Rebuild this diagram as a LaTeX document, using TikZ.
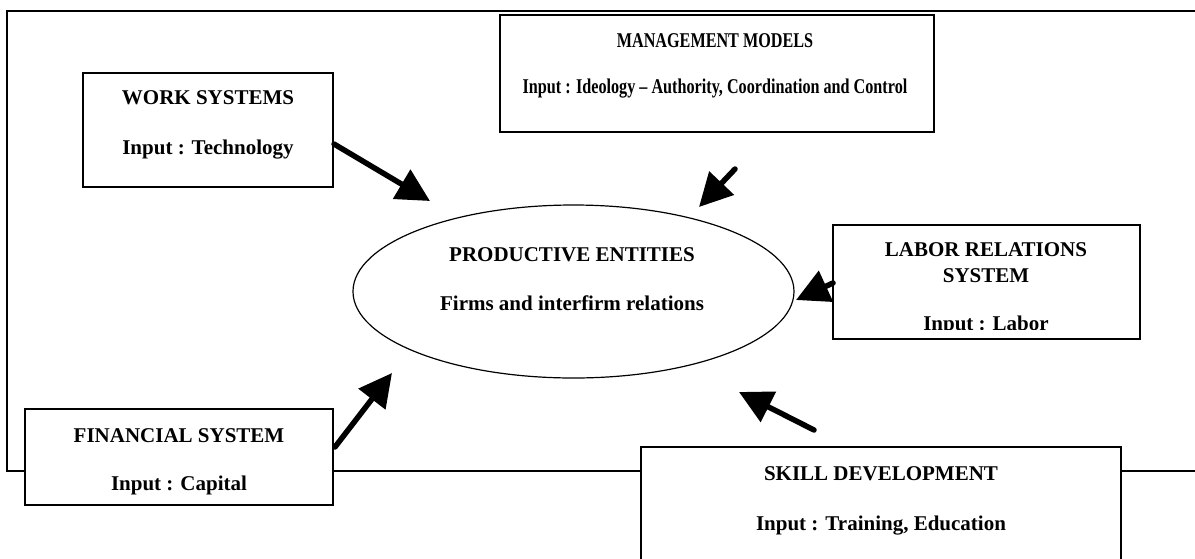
\documentclass[tikz,border=0pt]{standalone}
\usepackage{fontspec}
\setmainfont{Liberation Serif}
\newfontfamily\narrowserif[FakeStretch=0.77]{Liberation Serif}
\usetikzlibrary{arrows.meta,shapes.geometric}

\tikzset{
  box/.style={draw, line width=1.2pt, fill=white, rectangle, inner sep=0pt},
  txt/.style={anchor=base, inner sep=0pt, font=\bfseries\fontsize{21}{25}\selectfont},
  narrowtxt/.style={txt, font=\narrowserif\bfseries\fontsize{21}{25}\selectfont},
  inarrow/.style={line width=5.5pt, line cap=round, -{Triangle[length=33pt,width=33pt]}}
}

\begin{document}
\begin{tikzpicture}[x=1pt,y=-1pt]
	\path[use as bounding box, clip] (0,0) rectangle (1195,558);
	% outer frame, open to the right
	\draw[line width=1.2pt] (1195,11) -- (7,11) -- (7,471) -- (1195,471);

	% boxes and the ellipse
	\node[box, minimum width=250pt, minimum height=114pt] (work) at (208,130) {};
	\node[box, minimum width=434pt, minimum height=117pt] (mgmt) at (717,73.5) {};
	\node[box, minimum width=307pt, minimum height=114pt] (labor) at (986.5,282) {};
	\node[box, minimum width=308pt, minimum height=96pt] (fin) at (179,457) {};
	\node[box, minimum width=480pt, minimum height=133pt] (skill) at (881,513.5) {};
	\node[draw, ellipse, line width=1.2pt, minimum width=441pt, minimum height=173pt] (prod) at (573.5,291.5) {};

	% texts
	\node[txt] (worktitle) at (208,104) {WORK SYSTEMS};
	\node[txt] (workinput) at (208,154) {Input : Technology};
	\node[narrowtxt] (mgmttitle) at (715,47) {MANAGEMENT MODELS};
	\node[narrowtxt] (mgmtinput) at (715,93) {Input : Ideology – Authority, Coordination and Control};
	\node[txt] (prodtitle) at (572,261) {PRODUCTIVE ENTITIES};
	\node[txt] (prodtext) at (572,310) {Firms and interfirm relations};
	\node[txt] (labortitle) at (986,256) {LABOR RELATIONS};
	\node[txt] (labortitleb) at (986,282) {SYSTEM};
	\begin{scope}
		\clip (833,225) rectangle (1140,329);
		\node[txt] (laborinput) at (986,330.5) {Input : Labor};
	\end{scope}
	\node[txt] (fintitle) at (179,442) {FINANCIAL SYSTEM};
	\node[txt] (fininput) at (179,490) {Input : Capital};
	\node[txt] (skilltitle) at (881,480) {SKILL DEVELOPMENT};
	\node[txt] (skillinput) at (881,530) {Input : Training, Education};

	% arrows into the productive entities
	\coordinate (worktail) at (334,144);
	\coordinate (workhead) at (430,201);
	\coordinate (mgmttail) at (735,169);
	\coordinate (mgmthead) at (699,207);
	\coordinate (labortail) at (833,283);
	\coordinate (laborhead) at (796,300);
	\coordinate (fintail) at (335,447);
	\coordinate (finhead) at (392,373);
	\coordinate (skilltail) at (814,430);
	\coordinate (skillhead) at (739,392);
	\draw[inarrow] (worktail) -- (workhead);
	\draw[inarrow] (mgmttail) -- (mgmthead);
	\draw[inarrow] (labortail) -- (laborhead);
	\draw[inarrow] (fintail) -- (finhead);
	\draw[inarrow] (skilltail) -- (skillhead);
\end{tikzpicture}
\end{document}
